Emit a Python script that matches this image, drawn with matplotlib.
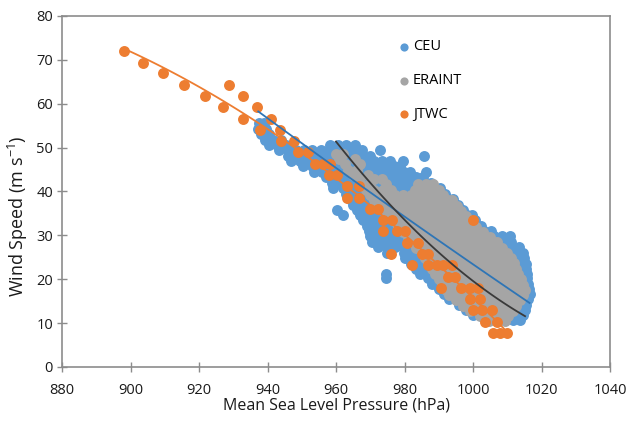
import numpy as np
import matplotlib
matplotlib.use("Agg")
import matplotlib.pyplot as plt

plt.rcParams['font.family'] = ['Open Sans', 'DejaVu Sans']
plt.rcParams['mathtext.default'] = 'regular'

# CEU (regional model) points, listed row by row: (wind speed, [pressures])
ceu_rows = [
    (55.6, [937.5, 939.0]),
    (54.3, [937.3, 939.7]),
    (53.1, [938.0, 940.4]),
    (51.8, [939.2, 941.6, 944.0]),
    (50.6, [940.5, 942.9, 945.3, 958.2, 960.6, 963.0, 965.4]),
    (49.4, [943.5, 945.9, 948.3, 950.7, 953.1, 955.5, 957.9, 960.3, 962.7, 965.1, 967.5, 972.9]),
    (48.2, [946.0, 948.4, 950.8, 953.2, 955.6, 958.0, 960.4, 962.8, 965.2, 967.6, 970.0, 985.7]),
    (47.0, [947.0, 949.4, 951.8, 954.2, 956.6, 959.0, 961.4, 963.8, 966.2, 968.6, 971.0, 973.4, 975.8, 979.7]),
    (45.8, [950.5, 952.9, 955.3, 957.7, 960.1, 962.5, 964.9, 967.3, 969.7, 972.1, 974.5, 976.9, 978.7]),
    (44.5, [953.5, 955.9, 958.3, 960.7, 963.1, 965.5, 967.9, 970.3, 972.7, 975.1, 977.5, 979.9, 981.7, 986.3]),
    (43.2, [957.0, 959.4, 961.8, 964.2, 966.6, 969.0, 971.4, 973.8, 976.2, 978.6, 981.0, 983.4, 985.3]),
    (42.0, [958.8, 961.2, 963.6, 966.0, 968.4, 970.8, 973.2, 975.6, 978.0, 980.4, 982.8, 985.2, 987.6]),
    (40.7, [959.2, 962.0, 964.4, 966.8, 969.2, 971.6, 974.0, 976.4, 978.8, 981.2, 983.6, 986.0, 988.4, 990.3]),
    (39.5, [963.0, 965.4, 967.8, 970.2, 972.6, 975.0, 977.4, 979.8, 982.2, 984.6, 987.0, 989.4, 991.9]),
    (38.2, [964.0, 966.4, 968.8, 971.2, 973.6, 976.0, 978.4, 980.8, 983.2, 985.6, 988.0, 990.4, 992.8, 994.2]),
    (37.0, [965.0, 967.4, 969.8, 972.2, 974.6, 977.0, 979.4, 981.8, 984.2, 986.6, 989.0, 991.4, 993.8, 995.6]),
    (35.8, [960.2, 966.0, 968.4, 970.8, 973.2, 975.6, 978.0, 980.4, 982.8, 985.2, 987.6, 990.0, 992.4, 994.8, 997.0]),
    (34.6, [962.0, 967.0, 969.4, 971.8, 974.2, 976.6, 979.0, 981.4, 983.8, 986.2, 988.6, 991.0, 993.4, 995.8, 998.2, 999.6]),
    (33.4, [968.0, 970.4, 972.8, 975.2, 977.6, 980.0, 982.4, 984.8, 987.2, 989.6, 992.0, 994.4, 996.8, 999.2, 1000.6]),
    (32.2, [969.0, 971.4, 973.8, 976.2, 978.6, 981.0, 983.4, 985.8, 988.2, 990.6, 993.0, 995.4, 997.8, 1000.2, 1002.2]),
    (31.0, [969.5, 971.9, 974.3, 976.7, 979.1, 981.5, 983.9, 986.3, 988.7, 991.1, 993.5, 995.9, 998.3, 1000.7, 1003.1, 1005.2]),
    (29.8, [970.0, 972.4, 974.8, 977.2, 979.6, 982.0, 984.4, 986.8, 989.2, 991.6, 994.0, 996.4, 998.8, 1001.2, 1003.6, 1006.0, 1008.4, 1010.8]),
    (28.5, [970.6, 973.0, 975.4, 977.8, 980.2, 982.6, 985.0, 987.4, 989.8, 992.2, 994.6, 997.0, 999.4, 1001.8, 1004.2, 1006.6, 1009.0, 1011.0]),
    (27.3, [972.4, 974.8, 977.2, 979.6, 982.0, 984.4, 986.8, 989.2, 991.6, 994.0, 996.4, 998.8, 1001.2, 1003.6, 1006.0, 1008.4, 1010.8, 1013.4]),
    (26.0, [975.0, 979.8, 982.2, 984.6, 987.0, 989.4, 991.8, 994.2, 996.6, 999.0, 1001.4, 1003.8, 1006.2, 1008.6, 1011.0, 1013.2, 1014.6]),
    (24.8, [980.2, 982.6, 985.0, 987.4, 989.8, 992.2, 994.6, 997.0, 999.4, 1001.8, 1004.2, 1006.6, 1009.0, 1011.4, 1013.6, 1015.0]),
    (23.5, [982.0, 984.4, 986.8, 989.2, 991.6, 994.0, 996.4, 998.8, 1001.2, 1003.6, 1006.0, 1008.4, 1010.8, 1013.2, 1015.4]),
    (22.3, [983.5, 985.9, 988.3, 990.7, 993.1, 995.5, 997.9, 1000.3, 1002.7, 1005.1, 1007.5, 1009.9, 1012.3, 1014.5, 1015.6]),
    (21.2, [974.6, 984.5, 986.9, 989.3, 991.7, 994.1, 996.5, 998.9, 1001.3, 1003.7, 1006.1, 1008.5, 1010.9, 1013.3, 1015.8]),
    (20.2, [974.6, 987.0, 989.4, 991.8, 994.2, 996.6, 999.0, 1001.4, 1003.8, 1006.2, 1008.6, 1011.0, 1013.4, 1015.8]),
    (19.0, [988.0, 990.4, 992.8, 995.2, 997.6, 1000.0, 1002.4, 1004.8, 1007.2, 1009.6, 1012.0, 1014.4, 1016.0]),
    (17.8, [990.0, 992.4, 994.8, 997.2, 999.6, 1002.0, 1004.4, 1006.8, 1009.2, 1011.6, 1014.0, 1016.3]),
    (16.6, [991.5, 993.9, 996.3, 998.7, 1001.1, 1003.5, 1005.9, 1008.3, 1010.7, 1013.1, 1015.5, 1016.5]),
    (15.4, [993.0, 995.4, 997.8, 1000.2, 1002.6, 1005.0, 1007.4, 1009.8, 1012.2, 1014.6, 1016.2]),
    (14.2, [996.0, 998.4, 1000.8, 1003.2, 1005.6, 1008.0, 1010.4, 1012.8, 1015.4]),
    (13.0, [998.0, 1000.4, 1002.8, 1005.2, 1007.6, 1010.0, 1012.4, 1015.2]),
    (11.8, [1000.0, 1002.4, 1004.8, 1007.2, 1009.6, 1012.0, 1014.6]),
    (10.8, [1006.8, 1009.2, 1011.6, 1013.8]),
]

# ERAINT (reanalysis) points, same layout
era_rows = [
    (48.6, [960.0, 962.0]),
    (47.4, [961.0, 965.5]),
    (46.2, [962.6, 967.0]),
    (45.0, [963.6, 966.2]),
    (43.8, [965.0, 969.4]),
    (42.8, [966.6, 971.0, 973.3]),
    (41.6, [967.4, 970.0, 974.6, 984.0, 986.4, 988.4]),
    (40.4, [968.8, 971.2, 973.6, 976.0, 983.2, 985.6, 988.0, 990.0]),
    (39.2, [970.0, 972.4, 974.8, 977.2, 979.6, 982.0, 984.4, 986.8, 989.2, 991.2]),
    (38.0, [971.0, 973.4, 975.8, 978.2, 980.6, 983.0, 985.4, 987.8, 990.2, 992.6, 993.8]),
    (36.8, [972.5, 974.9, 977.3, 979.7, 982.1, 984.5, 986.9, 989.3, 991.7, 994.1, 995.2]),
    (35.6, [974.0, 976.4, 978.8, 981.2, 983.6, 986.0, 988.4, 990.8, 993.2, 995.6, 996.6]),
    (34.4, [975.5, 977.9, 980.3, 982.7, 985.1, 987.5, 989.9, 992.3, 994.7, 997.1, 998.0]),
    (33.2, [977.0, 979.4, 981.8, 984.2, 986.6, 989.0, 991.4, 993.8, 996.2, 998.6, 999.5]),
    (32.0, [978.0, 980.4, 982.8, 985.2, 987.6, 990.0, 992.4, 994.8, 997.2, 999.6, 1001.0]),
    (30.8, [979.5, 981.9, 984.3, 986.7, 989.1, 991.5, 993.9, 996.3, 998.7, 1001.1, 1003.0]),
    (29.6, [981.0, 983.4, 985.8, 988.2, 990.6, 993.0, 995.4, 997.8, 1000.2, 1002.6, 1005.0]),
    (28.4, [982.0, 984.4, 986.8, 989.2, 991.6, 994.0, 996.4, 998.8, 1001.2, 1003.6, 1006.0, 1007.0]),
    (27.2, [983.5, 985.9, 988.3, 990.7, 993.1, 995.5, 997.9, 1000.3, 1002.7, 1005.1, 1007.5, 1008.5]),
    (26.0, [985.0, 987.4, 989.8, 992.2, 994.6, 997.0, 999.4, 1001.8, 1004.2, 1006.6, 1009.0, 1010.0]),
    (24.8, [986.0, 988.4, 990.8, 993.2, 995.6, 998.0, 1000.4, 1002.8, 1005.2, 1007.6, 1010.0, 1011.0]),
    (23.6, [987.0, 989.4, 991.8, 994.2, 996.6, 999.0, 1001.4, 1003.8, 1006.2, 1008.6, 1011.0, 1012.0]),
    (22.4, [988.0, 990.4, 992.8, 995.2, 997.6, 1000.0, 1002.4, 1004.8, 1007.2, 1009.6, 1012.0, 1012.6]),
    (21.2, [989.0, 991.4, 993.8, 996.2, 998.6, 1001.0, 1003.4, 1005.8, 1008.2, 1010.6, 1013.0]),
    (20.0, [990.0, 992.4, 994.8, 997.2, 999.6, 1002.0, 1004.4, 1006.8, 1009.2, 1011.6, 1014.0]),
    (18.8, [991.0, 993.4, 995.8, 998.2, 1000.6, 1003.0, 1005.4, 1007.8, 1010.2, 1012.6, 1014.6]),
    (17.6, [992.0, 994.4, 996.8, 999.2, 1001.6, 1004.0, 1006.4, 1008.8, 1011.2, 1013.6, 1015.2]),
    (16.4, [993.0, 995.4, 997.8, 1000.2, 1002.6, 1005.0, 1007.4, 1009.8, 1012.2, 1014.6]),
    (15.2, [995.0, 997.4, 999.8, 1002.2, 1004.6, 1007.0, 1009.4, 1011.8, 1013.6]),
    (14.0, [997.0, 999.4, 1001.8, 1004.2, 1006.6, 1009.0, 1011.4, 1012.6]),
    (12.8, [999.0, 1001.4, 1003.8, 1006.2, 1008.6, 1011.0, 1011.8]),
    (11.6, [1002.0, 1004.4, 1006.8, 1009.2, 1010.2]),
    (10.4, [1004.6, 1007.0, 1009.4]),
]

# JTWC best track (winds in 5 kt steps)
jtwc_mslp = [898.0, 903.7, 909.6, 915.7, 921.8, 926.9, 928.8, 932.8, 932.8, 936.8,
             941.0, 937.8, 943.6, 943.9, 947.8, 948.8, 951.7, 953.9, 956.3, 958.2,
             958.0, 960.2, 963.1, 966.8, 963.1, 966.8, 969.9, 972.4, 973.8, 976.3,
             973.8, 977.7, 980.1, 980.6, 984.0, 976.0, 985.0, 987.0, 982.1, 987.0,
             989.4, 991.3, 993.8, 992.8, 994.7, 990.8, 996.4, 999.1, 1001.5, 999.1,
             1002.0, 1000.1, 1002.5, 1005.4, 1003.5, 1006.9, 1005.9, 1007.9, 1009.8, 999.9]
jtwc_wind = [72.0, 69.4, 66.9, 64.3, 61.7, 59.2, 64.3, 61.7, 56.6, 59.2,
             56.6, 54.0, 54.0, 51.4, 51.4, 48.9, 48.9, 46.3, 46.3, 46.3,
             43.7, 43.7, 41.2, 41.2, 38.6, 38.6, 36.0, 36.0, 33.4, 33.4,
             30.9, 30.9, 30.9, 28.3, 28.3, 25.7, 25.7, 25.7, 23.2, 23.2,
             23.2, 23.2, 23.2, 20.6, 20.6, 18.0, 18.0, 18.0, 18.0, 15.4,
             15.4, 12.9, 12.9, 12.9, 10.3, 10.3, 7.7, 7.7, 7.7, 33.4]

# quadratic trendlines: coefficients in (p - p0)
ceu_trend_p0 = 937.2
ceu_trend_coef = [0.000277, -0.573, 58.3]
era_trend_p0 = 961.2
era_trend_coef = [0.00483, -0.976, 50.2]

ceu_mslp = np.array([x for y, xs in ceu_rows for x in xs])
ceu_wind = np.array([y for y, xs in ceu_rows for x in xs])
era_mslp = np.array([x for y, xs in era_rows for x in xs])
era_wind = np.array([y for y, xs in era_rows for x in xs])
jtwc_mslp = np.array(jtwc_mslp)
jtwc_wind = np.array(jtwc_wind)

c_ceu = '#5B9BD5'
c_era = '#A5A5A5'
c_jtwc = '#ED7D31'


def trend(ax, x, color, coef, p0=0.0):
    # trendline drawn over the data range of its series
    xx = np.linspace(x.min(), x.max(), 100)
    ax.plot(xx, np.polyval(coef, xx - p0), color=color, lw=1.3, zorder=5)


fig = plt.figure(figsize=(6.27, 4.21), dpi=100)
ax = fig.add_axes([0.0989, 0.1283, 0.874, 0.8337])

ms = 62
ax.scatter(ceu_mslp, ceu_wind, s=ms, color=c_ceu, lw=0, label='CEU', zorder=2)
ax.scatter(era_mslp, era_wind, s=ms, color=c_era, lw=0, label='ERAINT', zorder=3)
ax.scatter(jtwc_mslp, jtwc_wind, s=ms, color=c_jtwc, lw=0, label='JTWC', zorder=4)

trend(ax, ceu_mslp[ceu_mslp >= ceu_trend_p0], '#2E75B6', ceu_trend_coef, ceu_trend_p0)
trend(ax, era_mslp, '#3A3A3A', era_trend_coef, era_trend_p0)
trend(ax, jtwc_mslp, c_jtwc, np.polyfit(jtwc_mslp, jtwc_wind, 2))

ax.set_xlim(880, 1040)
ax.set_ylim(0, 80)
ax.set_xticks(np.arange(880, 1041, 20))
ax.set_yticks(np.arange(0, 81, 10))

for s in ax.spines.values():
    s.set_color('#8C8C8C')
    s.set_linewidth(1.2)
ax.tick_params(direction='inout', length=7, width=1, color='#8C8C8C',
               labelsize=10.5, labelcolor='#1A1A1A')
ax.tick_params(axis='x', pad=8)
ax.tick_params(axis='y', pad=3)

ax.set_xlabel('Mean Sea Level Pressure (hPa)', fontsize=11.5, color='#1A1A1A', labelpad=0)
ax.set_ylabel('Wind Speed (m s$^{-1}$)', fontsize=13, color='#1A1A1A')
ax.yaxis.set_label_coords(-0.058, 0.43)

ax.legend(loc='upper left', bbox_to_anchor=(0.603, 0.95), frameon=False,
          markerscale=0.75, handlelength=0.8, handletextpad=0.2,
          labelspacing=1.3, fontsize=10.5, borderaxespad=0)

fig.savefig('out.png', dpi=100)
